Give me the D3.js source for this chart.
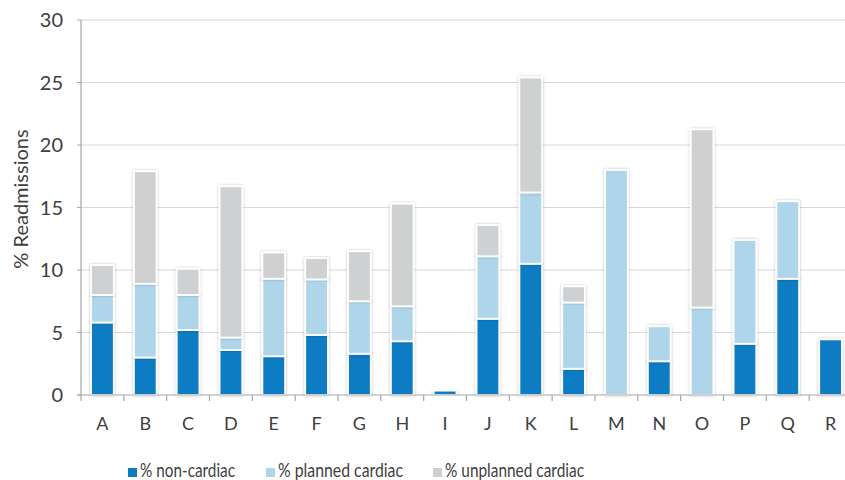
<!DOCTYPE html>
<html>
<head>
  <meta charset="utf-8" />
  <title>% Readmissions stacked bars</title>
  <style>
    body { margin:0; background:#fff; }
    text { font-family:"Lato","Open Sans",sans-serif; fill:#404040; }
  </style>
</head>
<body>
  <div id="container"></div>
  <script src="https://d3js.org/d3.v7.min.js"></script>
  <script>
// data
const categories = ["A","B","C","D","E","F","G","H","I","J","K","L","M","N","O","P","Q","R"];
const nonCardiac = [5.8, 3.0, 5.2, 3.6, 3.1, 4.8, 3.3, 4.3, 0.35, 6.1, 10.5, 2.1, 0, 2.7, 0, 4.1, 9.3, 4.45];
const plannedCardiac = [2.2, 5.9, 2.8, 1.0, 6.2, 4.45, 4.2, 2.8, 0, 5.0, 5.7, 5.3, 18.0, 2.8, 7.0, 8.3, 6.2, 0];
const unplannedCardiac = [2.4, 9.0, 2.1, 12.1, 2.1, 1.7, 4.0, 8.2, 0, 2.5, 9.2, 1.3, 0, 0, 14.25, 0, 0, 0];
const seriesNames = ["% non-cardiac", "% planned cardiac", "% unplanned cardiac"];
const seriesColors = ["#0E7CC2", "#AFD5EB", "#CFD0D2"];
const yTicks = [0, 5, 10, 15, 20, 25, 30];

const w = 845, h = 480;
const mLeft = 81, mRight = 852, mTop = 20, mBottom = 395;

const rows = categories.map((c, i) => ({
  cat: c, s0: nonCardiac[i], s1: plannedCardiac[i], s2: unplannedCardiac[i]
}));
const stack = d3.stack().keys(["s0", "s1", "s2"])(rows);

const svg = d3.select("#container").append("svg")
  .attr("width", w).attr("height", h);

const defs = svg.append("defs");
defs.append("filter").attr("id", "shadow")
  .attr("x", "-30%").attr("y", "-10%").attr("width", "160%").attr("height", "120%")
  .append("feDropShadow")
  .attr("dx", 0).attr("dy", 0).attr("stdDeviation", 1.6)
  .attr("flood-color", "#000").attr("flood-opacity", 0.25);

const x = d3.scaleBand().domain(categories).range([mLeft, mRight]).paddingInner(0.47).paddingOuter(0.235);
const y = d3.scaleLinear().domain([0, 30]).range([mBottom, mTop]);

// gridlines
svg.append("g").selectAll("line").data(yTicks.slice(1)).join("line")
  .attr("x1", mLeft).attr("x2", w)
  .attr("y1", d => y(d)).attr("y2", d => y(d))
  .attr("stroke", "#D9D9D9").attr("stroke-width", 1.2);

// y axis labels
svg.append("g").selectAll("text").data(yTicks).join("text")
  .attr("x", 63).attr("y", d => y(d) + 7)
  .attr("text-anchor", "end").style("font-size", "20px")
  .text(d => d);

svg.append("text")
  .attr("transform", "translate(28,199) rotate(-90)")
  .attr("text-anchor", "middle").style("font-size", "20px")
  .text("% Readmissions");

// bars
const layers = svg.append("g").selectAll("g").data(stack).join("g")
  .attr("fill", (d, i) => seriesColors[i]);

layers.selectAll("rect").data(d => d).join("rect")
  .attr("x", d => x(d.data.cat))
  .attr("width", x.bandwidth())
  .attr("y", d => y(d[1]))
  .attr("height", d => Math.max(0, y(d[0]) - y(d[1])))
  .attr("stroke", "#fff").attr("stroke-width", 1.8)
  .attr("filter", "url(#shadow)")
  .style("display", d => d[1] - d[0] > 0 ? null : "none");

// axes lines
svg.append("line").attr("x1", mLeft).attr("x2", mLeft).attr("y1", mTop).attr("y2", mBottom)
  .attr("stroke", "#A6A6A6").attr("stroke-width", 1.2);
svg.append("line").attr("x1", mLeft - 4).attr("x2", w).attr("y1", mBottom).attr("y2", mBottom)
  .attr("stroke", "#A6A6A6").attr("stroke-width", 1.2);
svg.append("g").selectAll("line").data(yTicks).join("line")
  .attr("x1", mLeft - 4).attr("x2", mLeft)
  .attr("y1", d => y(d)).attr("y2", d => y(d))
  .attr("stroke", "#A6A6A6");

// x ticks between categories
const gap = (x.step() - x.bandwidth()) / 2;
svg.append("g").selectAll("line").data(categories).join("line")
  .attr("x1", d => x(d) - gap)
  .attr("x2", d => x(d) - gap)
  .attr("y1", mBottom).attr("y2", mBottom + 6)
  .attr("stroke", "#A6A6A6").attr("stroke-width", 1.2);

svg.append("g").selectAll("text").data(categories).join("text")
  .attr("x", d => x(d) + x.bandwidth() / 2).attr("y", 430)
  .attr("text-anchor", "middle").style("font-size", "18px")
  .text(d => d);

// legend
const legendX = [128, 266, 433];
const legend = svg.append("g").selectAll("g").data(seriesNames).join("g")
  .attr("transform", (d, i) => "translate(" + legendX[i] + ",468)");
legend.append("rect").attr("width", 9).attr("height", 9).attr("y", 0)
  .attr("fill", (d, i) => seriesColors[i]);
legend.append("text").attr("x", 12).attr("y", 9).style("font-size", "19px")
  .attr("textLength", (d, i) => [95, 125, 139][i]).attr("lengthAdjust", "spacingAndGlyphs")
  .text(d => d);
  </script>
</body>
</html>
